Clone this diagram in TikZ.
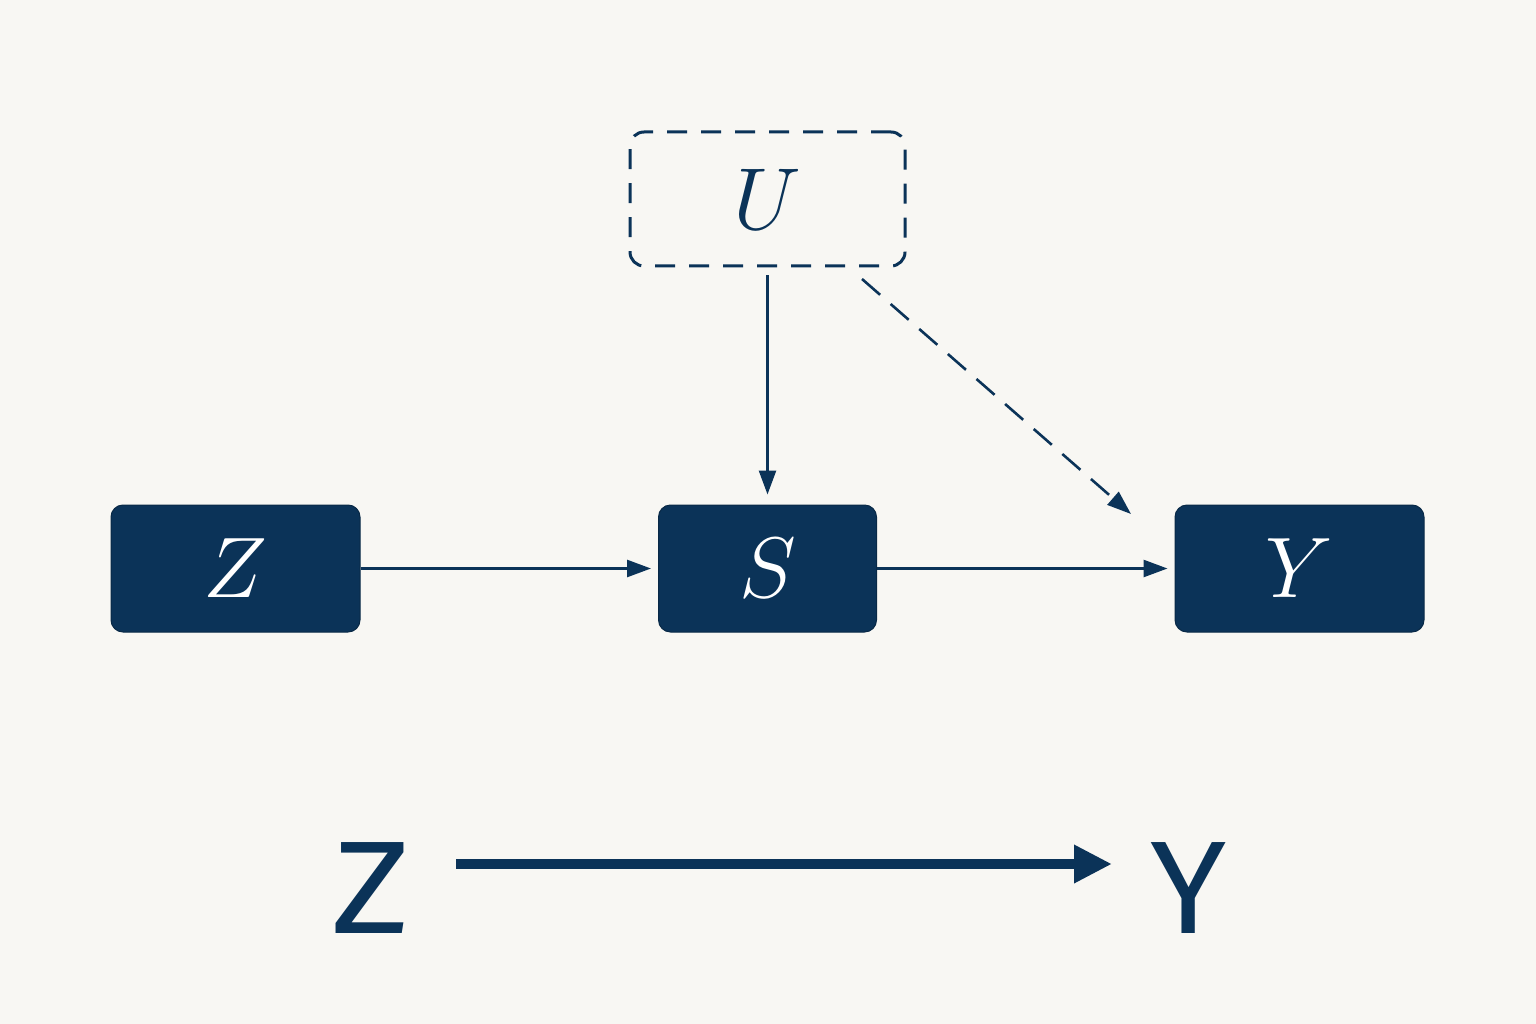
\documentclass[tikz,border=0pt]{standalone}
\usepackage{fix-cm}
\usepackage{fontspec}
\newfontfamily\bigsans{Fira Sans}
\usetikzlibrary{arrows.meta,positioning,calc}
\definecolor{navy}{HTML}{0B3358}
\definecolor{bg}{HTML}{F8F7F3}
\tikzset{
  varbox/.style={fill=navy,draw=navy!80!black,line width=1pt,rounded corners=12pt,
    minimum width=249pt,minimum height=127pt,inner sep=0pt,text=white,
    font=\fontsize{86}{86}\selectfont},
  latentbox/.style={draw=navy,line width=3pt,dash pattern=on 20pt off 14pt,rounded corners=14pt,
    minimum width=275pt,minimum height=134pt,inner sep=0pt,text=navy,
    font=\fontsize{88}{88}\selectfont},
  conn/.style={draw=navy,line width=2.6pt,-{Triangle[length=24pt,width=17pt]}},
  dconn/.style={conn,dash pattern=on 24pt off 14pt},
  bigletter/.style={text=navy,inner sep=0pt,font=\bigsans\fontsize{132}{132}\selectfont},
  bigconn/.style={draw=navy,line width=10pt,-{Triangle[length=38pt,width=36pt]}},
}
\begin{document}
\begin{tikzpicture}[x=1pt,y=-1pt]
\useasboundingbox[fill=bg] (0,0) rectangle (1536,1024);
\node[latentbox] (U) at (767.5,199) {$U$};
\node[varbox] (Z) at (235.5,568.5) {$Z$};
\node[varbox,minimum width=218pt] (S) at (767.5,568.5) {$S$};
\node[varbox] (Y) at (1299.5,568.5) {$Y$};
\coordinate (d1) at (862,279);
\coordinate (d2) at (1131,514);
\draw[conn,shorten <=8pt,shorten >=10pt] (U.south) -- (S.north);
\draw[dconn] (d1) -- (d2);
\draw[conn,shorten >=7pt] (Z.east) -- (S.west);
\draw[conn,shorten >=7pt] (S.east) -- (Y.west);
\node[bigletter,xscale=1.15] (zb) at (371,888) {Z};
\node[bigletter,xscale=1.05] (yb) at (1189,888) {Y};
\coordinate (a1) at (456,864);
\coordinate (a2) at (1112,864);
\draw[bigconn] (a1) -- (a2);
\end{tikzpicture}
\end{document}
